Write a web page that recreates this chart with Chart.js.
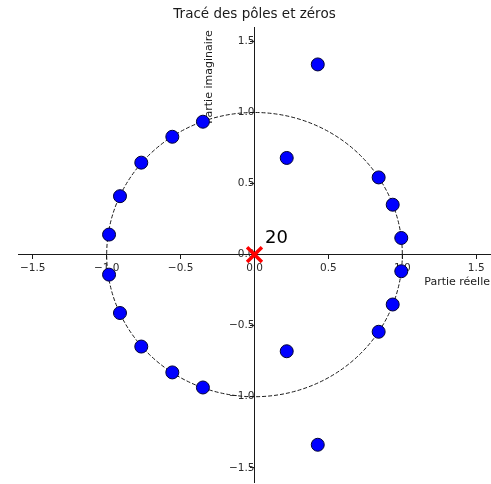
<!DOCTYPE html>
<html>
<head>
<meta charset="utf-8">
<script src="https://cdn.jsdelivr.net/npm/chart.js@4.4.1/dist/chart.umd.min.js"></script>
<style>
  html, body { margin: 0; padding: 0; background: #ffffff; }
  canvas { display: block; }
</style>
</head>
<body>
<canvas id="pz" width="491" height="484"></canvas>
<script>
// Zeros of the transfer function (real and imaginary parts)
const zeroRe = [-0.349, -0.556, -0.766, -0.910, -0.984, -0.984, -0.910, -0.766, -0.556, -0.349,
                 0.840,  0.935,  0.993,  0.993,  0.935,  0.840,
                 0.218,  0.218,  0.428,  0.428];
const zeroIm = [ 0.935,  0.829,  0.647,  0.411,  0.141, -0.141, -0.411, -0.647, -0.829, -0.935,
                 0.543,  0.351,  0.117, -0.117, -0.351, -0.543,
                 0.680, -0.680,  1.338, -1.338];

// Poles and their multiplicity
const poleRe = [0];
const poleIm = [0];
const poleOrder = [20];

// Axes
const tickValues = [-1.5, -1.0, -0.5, 0.0, 0.5, 1.0, 1.5];
const axisMin = -1.6;
const axisMax = 1.6;
const unitRadius = 1;

const titleText = 'Tracé des pôles et zéros';
const xLabel = 'Partie réelle';
const yLabel = 'Partie imaginaire';

const FONT = "'DejaVu Sans', 'Liberation Sans', sans-serif";
const INK = '#1a1a1a';

const zeroPoints = zeroRe.map((re, i) => ({ x: re, y: zeroIm[i] }));
const polePoints = poleRe.map((re, i) => ({ x: re, y: poleIm[i] }));

const fmt = v => (v < 0 ? '\u2212' : '') + Math.abs(v).toFixed(1);

// Unit circle, axis labels and pole-order annotations
const decorations = {
  id: 'decorations',
  beforeDatasetsDraw(chart) {
    const { ctx, scales: { x, y } } = chart;
    const cx = x.getPixelForValue(0);
    const cy = y.getPixelForValue(0);
    const rx = x.getPixelForValue(unitRadius) - cx;
    const ry = cy - y.getPixelForValue(unitRadius);

    ctx.save();
    ctx.setLineDash([4, 2]);
    ctx.lineWidth = 1;
    ctx.strokeStyle = INK;
    ctx.beginPath();
    ctx.ellipse(cx, cy, rx, ry, 0, 0, Math.PI * 2);
    ctx.stroke();
    ctx.restore();

    ctx.save();
    ctx.fillStyle = INK;
    ctx.font = '11px ' + FONT;
    ctx.textAlign = 'right';
    ctx.textBaseline = 'middle';
    ctx.fillText(xLabel, chart.width - 1, cy + 28);

    ctx.translate(cx - 45.5, y.getPixelForValue(1.25));
    ctx.rotate(-Math.PI / 2);
    ctx.textAlign = 'center';
    ctx.textBaseline = 'middle';
    ctx.fillText(yLabel, 0, 0);
    ctx.restore();
  },
  afterDatasetsDraw(chart) {
    const { ctx, scales: { x, y } } = chart;
    ctx.save();
    ctx.fillStyle = '#000000';
    ctx.font = '18px ' + FONT;
    ctx.textAlign = 'left';
    ctx.textBaseline = 'alphabetic';
    poleRe.forEach((re, i) => {
      const px = x.getPixelForValue(re);
      const py = y.getPixelForValue(poleIm[i]);
      ctx.fillText(String(poleOrder[i]), px + 10.5, py - 11.5);
    });
    ctx.restore();
  }
};

const axisCommon = {
  type: 'linear',
  min: axisMin,
  max: axisMax,
  afterBuildTicks: scale => { scale.ticks = tickValues.map(v => ({ value: v })); },
  // the spines cross inside the plot, so no room is kept for edge labels
  afterFit: scale => {
    scale.paddingLeft = 0;
    scale.paddingRight = 0;
    scale.paddingTop = 0;
    scale.paddingBottom = 0;
  },
  grid: {
    drawOnChartArea: false,
    drawTicks: true,
    tickLength: 4,
    color: INK,
    lineWidth: 1
  },
  border: { display: true, color: INK, width: 1 },
  ticks: {
    color: '#2a2a2a',
    padding: 3,
    font: { family: FONT, size: 10.5 },
    callback: v => fmt(v),
    autoSkip: false,
    maxRotation: 0
  }
};

new Chart(document.getElementById('pz'), {
  type: 'scatter',
  data: {
    datasets: [
      {
        label: 'Zéros',
        data: zeroPoints,
        pointStyle: 'circle',
        pointRadius: 6.5,
        pointBackgroundColor: '#0000ff',
        pointBorderColor: '#000033',
        pointBorderWidth: 1,
        showLine: false
      },
      {
        label: 'Pôles',
        data: polePoints,
        pointStyle: 'crossRot',
        pointRadius: 10.5,
        pointBorderColor: '#ff0000',
        pointBackgroundColor: '#ff0000',
        pointBorderWidth: 3.5,
        showLine: false
      }
    ]
  },
  options: {
    responsive: false,
    animation: false,
    events: [],
    layout: { autoPadding: false, padding: { left: 18, right: 0, top: 0, bottom: 2 } },
    plugins: {
      legend: { display: false },
      tooltip: { enabled: false },
      title: {
        display: true,
        text: titleText,
        color: INK,
        font: { family: FONT, size: 13.5, weight: 'normal' },
        padding: { top: 6, bottom: 5 }
      }
    },
    scales: {
      x: Object.assign({}, axisCommon, { position: { y: 0 } }),
      y: Object.assign({}, axisCommon, { position: { x: 0 } })
    }
  },
  plugins: [decorations]
});
</script>
</body>
</html>
